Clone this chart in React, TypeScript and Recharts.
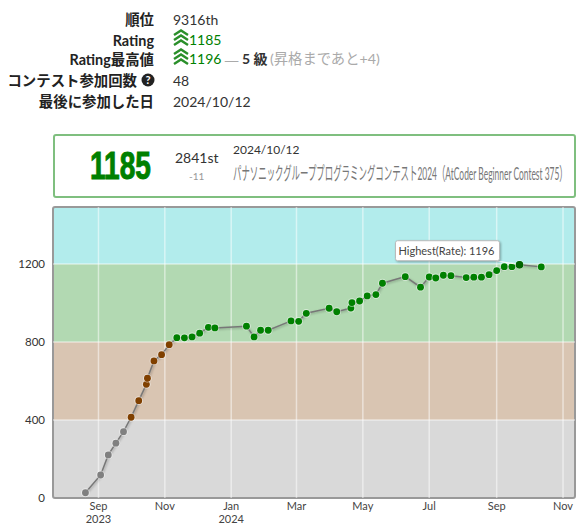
import React from "react";
import {
  ComposedChart,
  Line,
  XAxis,
  YAxis,
  ReferenceArea,
  ReferenceLine,
  ReferenceDot,
} from "recharts";

// days counted from 2023-09-01
const contestDays = [
  -12, 2, 9, 16, 23, 30, 37, 44, 45, 51, 58, 65, 72, 79, 86, 93, 101, 107, 136,
  143, 149, 156, 177, 184, 191, 212, 219, 232, 233, 240, 247, 255, 261, 282,
  296, 304, 310, 317, 324, 338, 345, 352, 359, 366, 373, 380, 387, 407,
];
const ratings = [
  27, 118, 221, 281, 340, 414, 499, 583, 614, 703, 735, 786, 822, 821, 826, 845,
  875, 872, 881, 826, 860, 860, 908, 906, 947, 973, 955, 974, 1002, 1010, 1036,
  1043, 1101, 1135, 1081, 1133, 1128, 1142, 1140, 1130, 1132, 1132, 1145, 1166,
  1186, 1186, 1196, 1185,
];
const monthTicks = [0, 61, 122, 182, 243, 304, 366, 427];
const monthLabels = ["Sep", "Nov", "Jan", "Mar", "May", "Jul", "Sep", "Nov"];
const yearLabels = ["2023", "", "2024", "", "", "", "", ""];
const ratingTicks = [0, 400, 800, 1200];
const bandEdges = [0, 400, 800, 1200, 1492];
const bandColors = ["#808080", "#804000", "#008000", "#00C0C0"];
const highestDay = 387;
const highestRate = 1196;

const chartData = contestDays.map((day, i) => ({ day, rating: ratings[i] }));

const dotColor = (rating: number) => {
  if (rating < 400) return "#808080";
  if (rating < 800) return "#804000";
  return "#008000";
};

const Chevrons = ({ x, y }: { x: number; y: number }) => (
  <svg
    width={16}
    height={17}
    style={{ position: "absolute", left: x, top: y }}
    viewBox="0 0 16 17"
  >
    {[0, 5, 10].map((dy) => (
      <path
        key={dy}
        d={`M1 ${dy + 6} L8 ${dy + 1.5} L15 ${dy + 6}`}
        fill="none"
        stroke="#2a8f2a"
        strokeWidth={2.4}
      />
    ))}
  </svg>
);

const rowStyle: React.CSSProperties = {
  position: "absolute",
  whiteSpace: "nowrap",
  lineHeight: "20px",
  fontSize: 14,
  color: "#333",
};

const labelRows = [
  { text: "順位", top: 10, right: 430 },
  { text: "Rating", top: 31, right: 430 },
  { text: "Rating最高値", top: 50, right: 430 },
  { text: "コンテスト参加回数", top: 71, right: 447 },
  { text: "最後に参加した日", top: 92, right: 430 },
];

const Header = () => (
  <div
    style={{
      position: "absolute",
      left: 0,
      top: 0,
      width: 584,
      height: 200,
      fontFamily: "Lato, 'Noto Sans CJK JP', sans-serif",
    }}
  >
    {labelRows.map((row) => (
      <div
        key={row.text}
        style={{
          ...rowStyle,
          top: row.top,
          right: row.right,
          fontWeight: 700,
          fontSize: 14.4,
          color: "#222",
        }}
      >
        {row.text}
      </div>
    ))}
    <svg
      width={14}
      height={14}
      style={{ position: "absolute", left: 141, top: 73 }}
      viewBox="0 0 14 14"
    >
      <circle cx={7} cy={7} r={6.5} fill="#222" />
      <text
        x={7}
        y={11}
        textAnchor="middle"
        fontSize={11}
        fontWeight={700}
        fill="#fff"
        fontFamily="Lato"
      >
        ?
      </text>
    </svg>

    <div style={{ ...rowStyle, left: 173, top: 10 }}>9316th</div>
    <Chevrons x={173} y={29} />
    <div style={{ ...rowStyle, left: 189, top: 30, color: "#008000" }}>1185</div>
    <Chevrons x={173} y={48} />
    <div style={{ ...rowStyle, left: 189, top: 49, color: "#008000" }}>1196</div>
    <div
      style={{
        ...rowStyle,
        left: 224,
        top: 49,
        color: "#aaa",
        fontSize: 17,
        fontFamily: "'Noto Sans CJK JP'",
      }}
    >
      —
    </div>
    <div style={{ ...rowStyle, left: 242, top: 49, fontWeight: 700 }}>5 級</div>
    <div style={{ ...rowStyle, left: 270, top: 49, color: "#aaa", fontSize: 14.3 }}>
      (昇格まであと+4)
    </div>
    <div style={{ ...rowStyle, left: 173, top: 71 }}>48</div>
    <div style={{ ...rowStyle, left: 173, top: 92 }}>2024/10/12</div>

    <div
      style={{
        position: "absolute",
        left: 53,
        top: 134,
        width: 519,
        height: 60,
        border: "2px solid #7fbf7f",
        borderRadius: 3,
      }}
    />
    <svg
      width={584}
      height={200}
      style={{ position: "absolute", left: 0, top: 0 }}
    >
      <text
        transform="translate(90,179) scale(0.72,1)"
        fontSize={39}
        fontWeight={700}
        fill="#008000"
        stroke="#008000"
        strokeWidth={1}
        fontFamily="Liberation Sans"
      >
        1185
      </text>
      <text x={175} y={163} fontSize={14} fill="#333" fontFamily="Lato">
        2841st
      </text>
      <text x={189} y={180} fontSize={10} fill="#999" fontFamily="Lato">
        -11
      </text>
      <text x={233} y={154} fontSize={12} fill="#333" fontFamily="Lato">
        2024/10/12
      </text>
      <text
        transform="translate(233,180) scale(0.468,1)"
        fontSize={18}
        fill="#777"
        fontFamily="Lato, 'Noto Sans CJK JP'"
      >
        パナソニックグループプログラミングコンテスト2024（AtCoder Beginner Contest 375）
      </text>
    </svg>
  </div>
);

const MonthTick = ({ x, y, payload }: any) => {
  const i = monthTicks.indexOf(payload.value);
  return (
    <g fontFamily="Lato" fontSize={11} fill="#444" textAnchor="middle">
      <text x={x} y={y + 4}>
        {monthLabels[i]}
      </text>
      <text x={x} y={y + 17}>
        {yearLabels[i]}
      </text>
    </g>
  );
};

const RateDot = ({ cx, cy, payload }: any) => (
  <g key={payload.day}>
    <circle cx={cx} cy={cy} r={4.4} fill="rgba(255,255,255,0.45)" />
    <circle cx={cx} cy={cy} r={3.4} fill={dotColor(payload.rating)} />
  </g>
);

const HighestMark = ({ cx, cy }: any) => (
  <g>
    <line
      x1={cx - 24}
      y1={cy - 4}
      x2={cx}
      y2={cy}
      stroke="#fff"
      strokeWidth={1}
    />
    <circle cx={cx} cy={cy} r={3.8} fill="#006400" />
    <rect
      x={cx - 124}
      y={cy - 24}
      width={104}
      height={20}
      rx={2}
      fill="#fff"
      stroke="#bbb"
      style={{ filter: "drop-shadow(1px 1px 1px rgba(0,0,0,0.3))" }}
    />
    <text
      x={cx - 121}
      y={cy - 10}
      fontSize={11}
      fill="#444"
      fontFamily="Lato"
    >{`Highest(Rate): ${highestRate}`}</text>
  </g>
);

export default function App() {
  return (
    <div
      style={{ position: "absolute", left: 0, top: 0, width: 584, height: 525 }}
    >
      <Header />
      <div style={{ position: "absolute", left: 0, top: 0 }}>
        <ComposedChart
          width={584}
          height={525}
          data={chartData}
          margin={{ top: 207, right: 9, bottom: 0, left: 0 }}
        >
          <XAxis
            dataKey="day"
            type="number"
            domain={[-41.8, 438]}
            ticks={monthTicks}
            tick={<MonthTick />}
            tickLine={false}
            axisLine={false}
            height={27}
            interval={0}
            allowDataOverflow
          />
          <YAxis
            type="number"
            domain={[0, 1492]}
            ticks={ratingTicks}
            tick={{ fontFamily: "Lato", fontSize: 11.5, fill: "#333" }}
            tickLine={false}
            axisLine={false}
            tickMargin={2}
            width={53}
            allowDataOverflow
          />
          {bandColors.map((color, i) => (
            <ReferenceArea
              key={color}
              y1={bandEdges[i]}
              y2={bandEdges[i + 1]}
              fill={color}
              fillOpacity={0.3}
              stroke="none"
            />
          ))}
          {monthTicks.map((day) => (
            <ReferenceLine
              key={day}
              x={day}
              stroke="#fff"
              strokeOpacity={0.5}
              strokeWidth={1.5}
            />
          ))}
          {ratingTicks.slice(1).map((rate) => (
            <ReferenceLine
              key={rate}
              y={rate}
              stroke="#fff"
              strokeOpacity={0.5}
              strokeWidth={1.5}
            />
          ))}
          <ReferenceArea
            x1={-41.8}
            x2={438}
            y1={0}
            y2={1492}
            fill="none"
            stroke="#999"
            strokeWidth={2}
            radius={2}
          />
          <Line
            dataKey="rating"
            stroke="#777"
            strokeWidth={1.5}
            dot={<RateDot />}
            activeDot={false}
            isAnimationActive={false}
            style={{ filter: "drop-shadow(1px 1px 1px rgba(0,0,0,0.25))" }}
          />
          <ReferenceDot
            x={highestDay}
            y={highestRate}
            r={4}
            shape={<HighestMark />}
          />
        </ComposedChart>
      </div>
    </div>
  );
}
